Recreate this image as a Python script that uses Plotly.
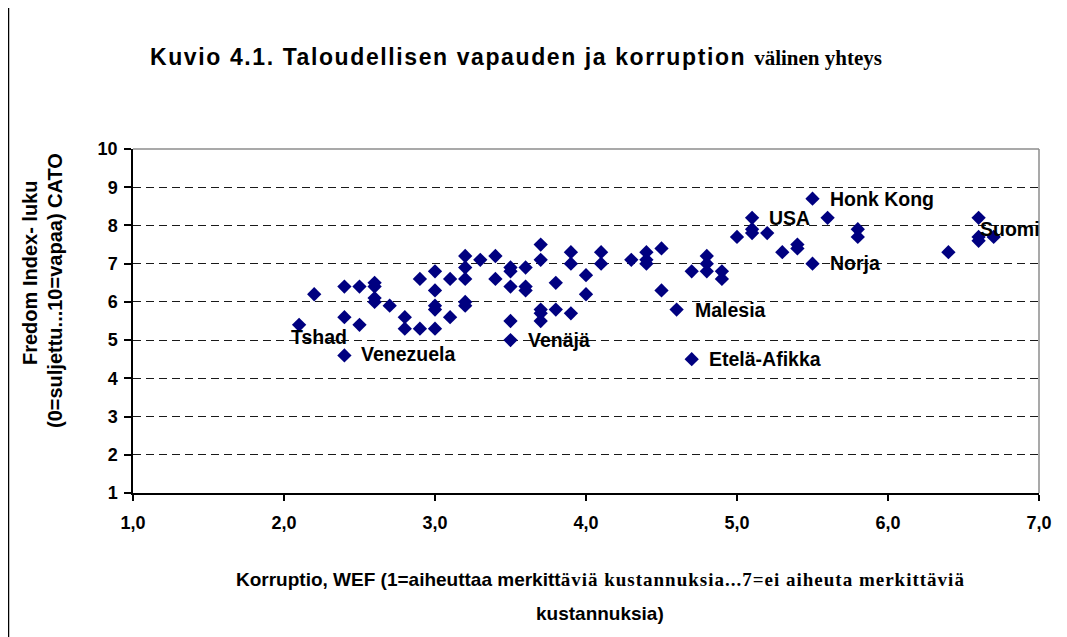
import plotly.graph_objects as go

# ---- data ----
korruptio = [2.1, 2.2, 2.4, 2.4, 2.4, 2.5, 2.5, 2.6, 2.6, 2.6, 2.6, 2.7, 2.8, 2.8, 2.9, 2.9,
             3.0, 3.0, 3.0, 3.0, 3.0, 3.1, 3.1, 3.2, 3.2, 3.2, 3.2, 3.2, 3.3, 3.4, 3.4,
             3.5, 3.5, 3.5, 3.5, 3.5, 3.6, 3.6, 3.6, 3.7, 3.7, 3.7, 3.7, 3.7, 3.8, 3.8,
             3.9, 3.9, 3.9, 4.0, 4.0, 4.1, 4.1, 4.3, 4.4, 4.4, 4.4, 4.5, 4.5, 4.6, 4.7,
             4.7, 4.8, 4.8, 4.8, 4.9, 4.9, 5.0, 5.1, 5.1, 5.1, 5.2, 5.3, 5.4, 5.4, 5.5,
             5.5, 5.6, 5.8, 5.8, 6.4, 6.6, 6.6, 6.6, 6.7]
vapaus = [5.4, 6.2, 6.4, 5.6, 4.6, 6.4, 5.4, 6.5, 6.4, 6.1, 6.0, 5.9, 5.6, 5.3, 5.3, 6.6,
          6.8, 6.3, 5.9, 5.8, 5.3, 6.6, 5.6, 7.2, 6.9, 6.6, 6.0, 5.9, 7.1, 7.2, 6.6,
          6.9, 6.8, 6.4, 5.5, 5.0, 6.9, 6.4, 6.3, 7.5, 7.1, 5.8, 5.7, 5.5, 6.5, 5.8,
          7.3, 7.0, 5.7, 6.7, 6.2, 7.3, 7.0, 7.1, 7.3, 7.1, 7.0, 7.4, 6.3, 5.8, 6.8,
          4.5, 7.2, 7.0, 6.8, 6.8, 6.6, 7.7, 8.2, 7.9, 7.8, 7.8, 7.3, 7.5, 7.4, 8.7,
          7.0, 8.2, 7.9, 7.7, 7.3, 8.2, 7.7, 7.6, 7.7]

label_names = ["Tshad", "Venezuela", "Venäjä", "Malesia", "Etelä-Afikka",
               "USA", "Honk Kong", "Norja", "Suomi"]
label_x = [2.1, 2.4, 3.5, 4.6, 4.7, 5.1, 5.5, 5.5, 6.7]
label_y = [5.4, 4.6, 5.0, 5.8, 4.5, 8.2, 8.7, 7.0, 7.7]

x_ticks = [1, 2, 3, 4, 5, 6, 7]
y_ticks = [1, 2, 3, 4, 5, 6, 7, 8, 9, 10]

title_arial = "Kuvio 4.1. Taloudellisen vapauden ja korruption "
title_times = "välinen yhteys"
xtitle_arial = "Korruptio, WEF (1=aiheuttaa merkitt"
xtitle_times = "äviä kustannuksia...7=ei aiheuta merkittäviä"
xtitle_line2 = "kustannuksia)"
ytitle_line1 = "Fredom Index- luku"
ytitle_line2 = "(0=suljettu...10=vapaa) CATO"

# ---- layout geometry (screen pixels; the page body has an 8px margin) ----
OFF = 8
W, H = 1067 - OFF, 637 - OFF
L, R, T, B = 133, 1039, 149, 493          # plot area in screen pixels
PW, PH = R - L, B - T


def px(xs):
    return (xs - L) / PW


def py(ys):
    return (B - ys) / PH


ARIAL = "Liberation Sans, Arial, sans-serif"
TIMES = "Liberation Serif, Times New Roman, serif"

fig = go.Figure()
fig.add_trace(go.Scatter(
    x=korruptio, y=vapaus, mode="markers",
    marker=dict(symbol="diamond", size=11, color="#000080", line=dict(width=0)),
    hoverinfo="x+y", showlegend=False,
))

# point label offsets (pixels)
label_dx = [-10, 15, 15, 16, 15, 15, 15, 15, -16]
label_dy = [-12, 1, 0, 0, 0, 0, 0, 1, 8]

annotations = []
for name, lx, ly, dx, dy in zip(label_names, label_x, label_y, label_dx, label_dy):
    annotations.append(dict(
        x=lx, y=ly, xref="x", yref="y", text=f"<b>{name}</b>",
        showarrow=False, xanchor="left", yanchor="middle",
        xshift=dx, yshift=dy,
        font=dict(family=ARIAL, size=19.5, color="#000000"),
    ))

annotations.append(dict(
    x=px(148), y=py(57), xref="paper", yref="paper", showarrow=False,
    xanchor="left", yanchor="middle",
    text=(f"<b><span style=\"letter-spacing:1.6px\">{title_arial}</span>"
          f"<span style=\"font-family:Liberation Serif;font-size:21px\">{title_times}</span></b>"),
    font=dict(family=ARIAL, size=23, color="#000000"),
))
annotations.append(dict(
    x=px(600), y=py(579), xref="paper", yref="paper", showarrow=False,
    xanchor="center", yanchor="middle",
    text=(f"<b>{xtitle_arial}<span style=\"font-family:Liberation Serif;"
          f"letter-spacing:1px\">{xtitle_times}</span></b>"),
    font=dict(family=ARIAL, size=19, color="#000000"),
))
annotations.append(dict(
    x=px(600), y=py(613), xref="paper", yref="paper", showarrow=False,
    xanchor="center", yanchor="middle", text=f"<b>{xtitle_line2}</b>",
    font=dict(family=ARIAL, size=19, color="#000000"),
))
annotations.append(dict(
    x=px(30), y=py(273), xref="paper", yref="paper", showarrow=False,
    xanchor="center", yanchor="middle", textangle=-90, text=f"<b>{ytitle_line1}</b>",
    font=dict(family=ARIAL, size=20, color="#000000"),
))
annotations.append(dict(
    x=px(55), y=py(291), xref="paper", yref="paper", showarrow=False,
    xanchor="center", yanchor="middle", textangle=-90, text=f"<b>{ytitle_line2}</b>",
    font=dict(family=ARIAL, size=20, color="#000000"),
))

shapes = [
    # grey top and right border of plot area
    dict(type="line", xref="paper", yref="paper", x0=0, x1=1, y0=1, y1=1,
         line=dict(color="#8c8c8c", width=1.5)),
    dict(type="line", xref="paper", yref="paper", x0=1, x1=1, y0=0, y1=1,
         line=dict(color="#8c8c8c", width=1.5)),
    # chart-area border on the left
    dict(type="line", xref="paper", yref="paper", x0=px(8.5), x1=px(8.5),
         y0=py(OFF), y1=py(637), line=dict(color="#000000", width=1.5)),
]

fig.update_layout(
    width=W, height=H,
    margin=dict(l=L - OFF, r=(W + OFF) - R, t=T - OFF, b=(H + OFF) - B, pad=0),
    paper_bgcolor="white", plot_bgcolor="white",
    separators=", ",
    font=dict(family=ARIAL, color="#000000"),
    annotations=annotations, shapes=shapes,
    xaxis=dict(
        range=[1, 7], tickvals=x_ticks, tickformat=".1f",
        showgrid=False, zeroline=False,
        showline=True, linecolor="#000000", linewidth=1.5,
        ticks="outside", ticklen=6, tickwidth=1.5, tickcolor="#000000",
        tickfont=dict(family=ARIAL, size=18, color="#000000", weight="bold"),
        ticklabelstandoff=7,
    ),
    yaxis=dict(
        range=[1, 10], tickvals=y_ticks,
        showgrid=True, gridcolor="#1a1a1a", gridwidth=1, griddash="8px,5px",
        zeroline=False,
        showline=True, linecolor="#000000", linewidth=1.5,
        ticks="outside", ticklen=7, tickwidth=1.5, tickcolor="#000000",
        tickfont=dict(family=ARIAL, size=18, color="#000000", weight="bold"),
        ticklabelstandoff=3,
    ),
)

fig.write_html("out.html")
